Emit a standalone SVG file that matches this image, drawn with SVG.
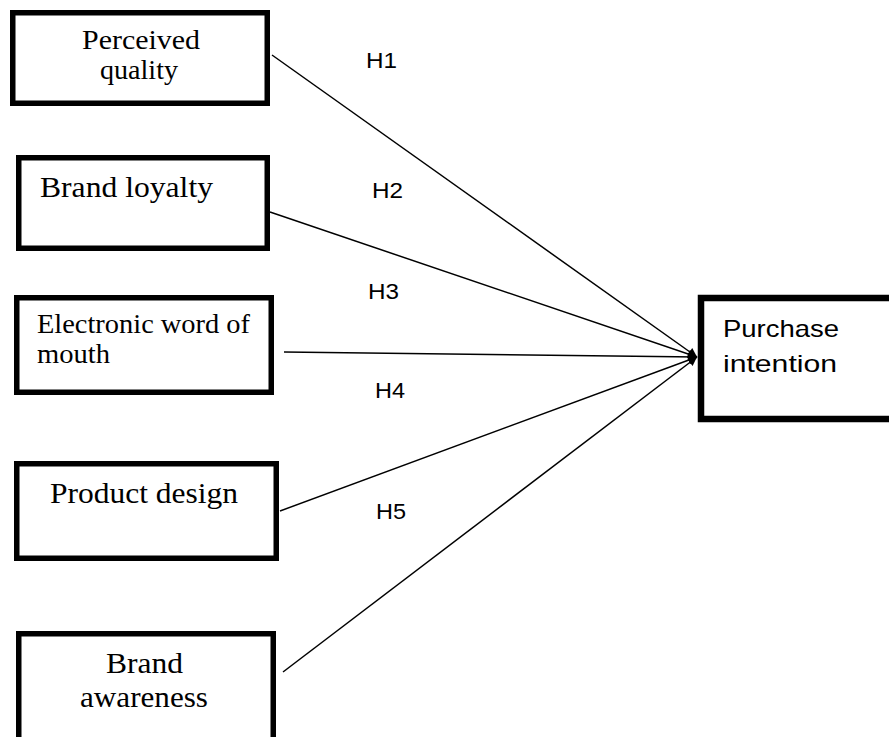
<svg xmlns="http://www.w3.org/2000/svg" width="889" height="737" viewBox="0 0 889 737">
<defs>
<style>
.box{fill:#fff;stroke:#000;stroke-width:5.5}
.serif{font-family:"Liberation Serif","Times New Roman",serif;font-size:30px;fill:#000}
.sans{font-family:"Liberation Sans",Arial,sans-serif;font-size:24px;fill:#000}
.lbl{font-family:"Liberation Sans",Arial,sans-serif;font-size:22px;fill:#000}
.conn{stroke:#000;stroke-width:1.5;fill:none}
</style>
<marker id="arr" viewBox="0 0 10 10" refX="10" refY="5" markerWidth="10" markerHeight="9" markerUnits="userSpaceOnUse" orient="auto">
<path d="M0,0 L10,5 L0,10 z" fill="#000"/>
</marker>
</defs>
<rect width="889" height="737" fill="#fff"/>
<g id="connectors">
<line class="conn" x1="272" y1="55" x2="697" y2="357" marker-end="url(#arr)"/>
<line class="conn" x1="270" y1="212" x2="697" y2="357" marker-end="url(#arr)"/>
<line class="conn" x1="284" y1="352" x2="697" y2="357" marker-end="url(#arr)"/>
<line class="conn" x1="280" y1="511" x2="697" y2="357" marker-end="url(#arr)"/>
<line class="conn" x1="283" y1="672" x2="697" y2="357" marker-end="url(#arr)"/>
</g>
<g id="labels">
<text class="lbl" x="366" y="68" textLength="31" lengthAdjust="spacingAndGlyphs">H1</text>
<text class="lbl" x="372" y="198" textLength="31" lengthAdjust="spacingAndGlyphs">H2</text>
<text class="lbl" x="368" y="299" textLength="31" lengthAdjust="spacingAndGlyphs">H3</text>
<text class="lbl" x="375" y="398" textLength="30" lengthAdjust="spacingAndGlyphs">H4</text>
<text class="lbl" x="376" y="519" textLength="30" lengthAdjust="spacingAndGlyphs">H5</text>
</g>
<g id="perceived-quality">
<rect class="box" x="12.75" y="12.75" width="254.5" height="90.5"/>
<text class="serif" x="82" y="49" style="font-size:27px" textLength="118" lengthAdjust="spacingAndGlyphs">Perceived</text>
<text class="serif" x="100" y="79" style="font-size:27px" textLength="78" lengthAdjust="spacingAndGlyphs">quality</text>
</g>
<g id="brand-loyalty">
<rect class="box" x="18.75" y="157.75" width="248.5" height="90.5"/>
<text class="serif" x="40" y="197" textLength="173" lengthAdjust="spacingAndGlyphs">Brand loyalty</text>
</g>
<g id="ewom">
<rect class="box" x="16.75" y="297.75" width="254.5" height="94.5"/>
<text class="serif" x="37" y="333" style="font-size:27px" textLength="213" lengthAdjust="spacingAndGlyphs">Electronic word of</text>
<text class="serif" x="37" y="363" style="font-size:27px" textLength="73" lengthAdjust="spacingAndGlyphs">mouth</text>
</g>
<g id="product-design">
<rect class="box" x="16.75" y="463.75" width="259.5" height="94.5"/>
<text class="serif" x="50" y="503" textLength="188" lengthAdjust="spacingAndGlyphs">Product design</text>
</g>
<g id="brand-awareness">
<rect class="box" x="18.75" y="633.75" width="254.5" height="120"/>
<text class="serif" x="106" y="673" textLength="77" lengthAdjust="spacingAndGlyphs">Brand</text>
<text class="serif" x="80" y="707" textLength="128" lengthAdjust="spacingAndGlyphs">awareness</text>
</g>
<g id="purchase-intention">
<rect class="box" x="701" y="298" width="200" height="121" style="stroke-width:6.5"/>
<text class="sans" x="723" y="337" textLength="116" lengthAdjust="spacingAndGlyphs">Purchase</text>
<text class="sans" x="723" y="372" textLength="114" lengthAdjust="spacingAndGlyphs">intention</text>
</g>
</svg>
